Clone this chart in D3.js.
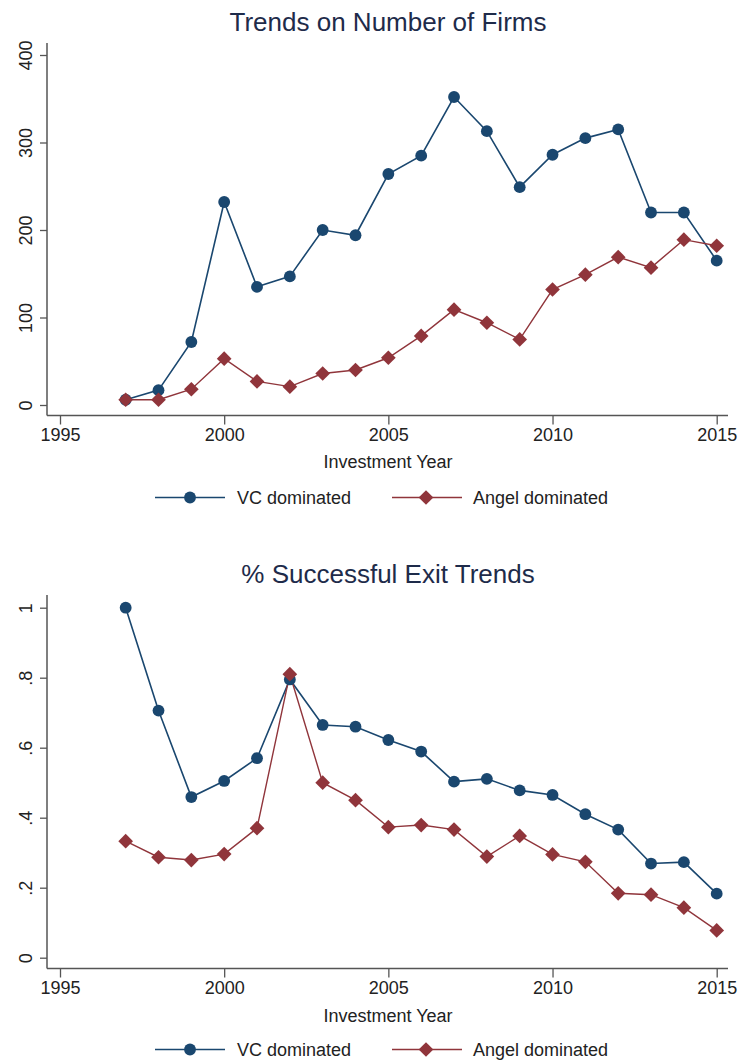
<!DOCTYPE html>
<html>
<head>
<meta charset="utf-8">
<script src="https://cdn.jsdelivr.net/npm/d3@7"></script>
<style>
  html, body { margin: 0; padding: 0; background: #fff; }
  svg { display: block; }
  text { font-family: "Liberation Sans", Arial, Helvetica, sans-serif; fill: #222; }
</style>
</head>
<body>
<svg id="chart" width="740" height="1061"></svg>
<script>
const years = [1997,1998,1999,2000,2001,2002,2003,2004,2005,2006,2007,2008,2009,2010,2011,2012,2013,2014,2015];
const firmsVC    = [6,17,72,232,135,147,200,194,264,285,352,313,249,286,305,315,220,220,165];
const firmsAngel = [6,6,18,53,27,21,36,40,54,79,109,94,75,132,149,169,157,189,182];
const exitVC     = [1.0,0.706,0.459,0.505,0.570,0.795,0.665,0.660,0.622,0.589,0.503,0.511,0.478,0.465,0.410,0.366,0.269,0.273,0.183];
const exitAngel  = [0.333,0.287,0.279,0.296,0.370,0.810,0.500,0.450,0.373,0.379,0.366,0.289,0.348,0.295,0.274,0.184,0.180,0.143,0.078];
const xTicks = [1995,2000,2005,2010,2015];
const firmsTicks = [0,100,200,300,400];
const exitTicks = [0,0.2,0.4,0.6,0.8,1];
const exitTickLabels = ["0",".2",".4",".6",".8","1"];
const seriesNames = ["VC dominated","Angel dominated"];
const titles = ["Trends on Number of Firms","% Successful Exit Trends"];
const xTitle = "Investment Year";

const colVC = "#1a476f", colAngel = "#90353b", axisCol = "#555";
const svg = d3.select("#chart");
const x = d3.scaleLinear().domain([1995,2015]).range([60,716.7]);

const symCircle = d3.symbol().type(d3.symbolCircle).size(110);
const symDiamond = d3.symbol().type(d3.symbolSquare).size(108);

function panel(opts) {
  const g = svg.append("g");
  const y = d3.scaleLinear().domain(opts.ydomain).range(opts.yrange);
  g.append("text").attr("x",388).attr("y",opts.titleY).attr("text-anchor","middle")
    .style("font-size","26px").style("fill","#1e2b4a").text(opts.title);
  const xa = d3.axisBottom(x).tickValues(xTicks).tickSize(9).tickPadding(4).tickFormat(d3.format("d"));
  const xg = g.append("g").attr("transform",`translate(0,${opts.xAxisY})`).call(xa);
  xg.select(".domain").remove();
  xg.selectAll(".tick line").attr("stroke",axisCol).attr("stroke-width",1.3);
  xg.selectAll(".tick text").style("font-size","18px").style("fill","#222").style("font-family",null);
  g.append("line").attr("x1",47).attr("x2",728).attr("y1",opts.xAxisY).attr("y2",opts.xAxisY)
    .attr("stroke",axisCol).attr("stroke-width",1.5);
  const ya = d3.axisLeft(y).tickValues(opts.yticks).tickSize(7).tickFormat((d,i)=>opts.ylabels[i]);
  const yg = g.append("g").attr("transform","translate(47,0)").call(ya);
  yg.select(".domain").remove();
  yg.selectAll(".tick line").attr("stroke",axisCol).attr("stroke-width",1.3);
  yg.selectAll(".tick text").remove();
  yg.selectAll(".tick").append("text")
    .attr("transform","translate(-15,0) rotate(-90)")
    .attr("text-anchor","middle")
    .style("font-size","18px").style("fill","#222")
    .text((d,i)=>opts.ylabels[i]);
  g.append("line").attr("x1",47).attr("x2",47).attr("y1",opts.yAxisTop).attr("y2",opts.xAxisY)
    .attr("stroke",axisCol).attr("stroke-width",1.5);
  g.append("text").attr("x",388).attr("y",opts.xTitleY).attr("text-anchor","middle")
    .style("font-size","18px").text(xTitle);
  const line = d3.line().x((d,i)=>x(years[i])).y(d=>y(d));
  const series = [{v:opts.vc,c:colVC,sym:symCircle,rot:"",w:1.6},
                  {v:opts.angel,c:colAngel,sym:symDiamond,rot:" rotate(45)",w:1.4}];
  series.forEach(s=>{
    g.append("path").datum(s.v).attr("d",line).attr("fill","none").attr("stroke",s.c).attr("stroke-width",s.w);
  });
  series.forEach(s=>{
    g.selectAll(null).data(s.v).enter().append("path")
      .attr("d",s.sym)
      .attr("transform",(d,i)=>`translate(${x(years[i])},${y(d)})`+s.rot)
      .attr("fill",s.c);
  });
  const ly = opts.legendY;
  const leg = [{x1:155,x2:225,mx:190,tx:237,c:colVC,sym:symCircle,rot:"",name:seriesNames[0]},
               {x1:392,x2:462,mx:426,tx:473,c:colAngel,sym:symDiamond,rot:" rotate(45)",name:seriesNames[1]}];
  leg.forEach(l=>{
    g.append("line").attr("x1",l.x1).attr("x2",l.x2).attr("y1",ly).attr("y2",ly).attr("stroke",l.c).attr("stroke-width",1.5);
    g.append("path").attr("d",l.sym)
      .attr("transform",`translate(${l.mx},${ly})`+l.rot).attr("fill",l.c);
    g.append("text").attr("x",l.tx).attr("y",ly+6.5).style("font-size","18px").text(l.name);
  });
}

panel({title:titles[0],titleY:31,ydomain:[0,400],yrange:[405,55],yticks:firmsTicks,
  ylabels:firmsTicks.map(String),xAxisY:415.5,yAxisTop:43,xTitleY:468,legendY:497.5,
  vc:firmsVC,angel:firmsAngel});
panel({title:titles[1],titleY:583,ydomain:[0,1],yrange:[957.7,607.7],yticks:exitTicks,
  ylabels:exitTickLabels,xAxisY:968.5,yAxisTop:595,xTitleY:1022,legendY:1049.5,
  vc:exitVC,angel:exitAngel});
</script>
</body>
</html>
